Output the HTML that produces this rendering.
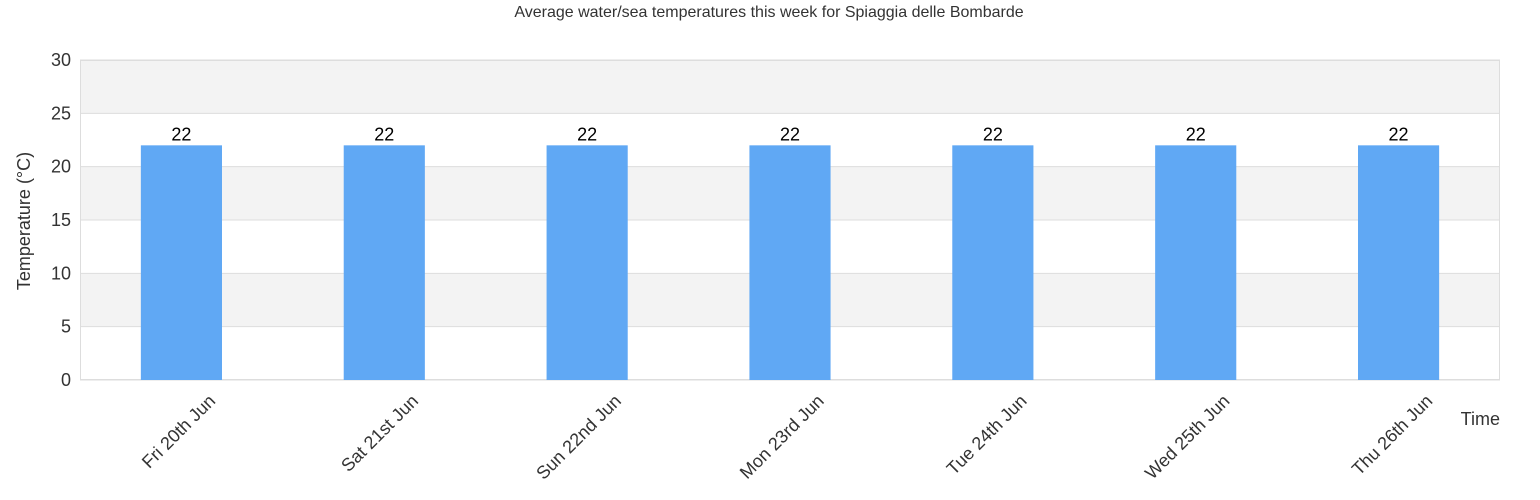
<!DOCTYPE html>
<html><head><meta charset="utf-8"><style>
body{margin:0;background:#fff}
svg{display:block;font-family:"Liberation Sans",sans-serif}
</style></head><body>
<svg id="c" width="1540" height="500">
<text x="769" y="17" text-anchor="middle" font-size="16" fill="#333">Average water/sea temperatures this week for Spiaggia delle Bombarde</text>
<text transform="translate(30,221) rotate(-90)" text-anchor="middle" font-size="18" fill="#333">Temperature (°C)</text>
<text x="1500" y="425" text-anchor="end" font-size="18" fill="#333">Time</text>
<g id="g"></g>
</svg>
<script>
const categories=["Fri 20th Jun","Sat 21st Jun","Sun 22nd Jun","Mon 23rd Jun","Tue 24th Jun","Wed 25th Jun","Thu 26th Jun"];
const values=[22,22,22,22,22,22,22];
const yTicks=[0,5,10,15,20,25,30];
const NS="http://www.w3.org/2000/svg";
const g=document.getElementById('g');
const L=80,R=1500,T=60,B=380,yMax=30;
const y=v=>B-(v/yMax)*(B-T);
const bw=(R-L)/categories.length;
const x=i=>L+bw*(i+0.5);
function mk(t,a){const e=document.createElementNS(NS,t);for(const k in a)e.setAttribute(k,a[k]);g.appendChild(e);return e;}
for(let i=0;i<yTicks.length-1;i++){
  const b=mk('rect',{x:L,y:y(yTicks[i+1]),width:R-L,height:y(yTicks[i])-y(yTicks[i+1]),fill:(i%2==1)?'#f3f3f3':'#fff'});
  
  
}
yTicks.forEach(t=>{
  const l=mk('line',{x1:L,x2:R,y1:y(t),y2:y(t),stroke:'#dddddd','stroke-width':1});
  
  
  const tx=mk('text',{x:71,y:y(t)+6,'text-anchor':'end','font-size':18,fill:'#333'});
  tx.textContent=t;
  
  
});
const fr=mk('rect',{x:L+0.5,y:T+0.5,width:R-L-1,height:B-T-1,fill:'none',stroke:'#dddddd'});


categories.forEach((c,i)=>{
  const w=bw*0.4;
  const r=mk('rect',{x:x(i)-w/2,y:y(values[i]),width:w,height:B-y(values[i]),fill:'#60a8f4'});
  
  
  const v=mk('text',{x:x(i),y:y(values[i])-5,'text-anchor':'middle','font-size':18,fill:'#000'});
  v.textContent=values[i];
  
  
  const lb=mk('text',{x:0,y:0,'text-anchor':'end','font-size':18,fill:'#333',transform:`translate(${x(i)+35},${402}) rotate(-45)`});
  lb.textContent=c;
  
  
});
</script>
</body></html>
